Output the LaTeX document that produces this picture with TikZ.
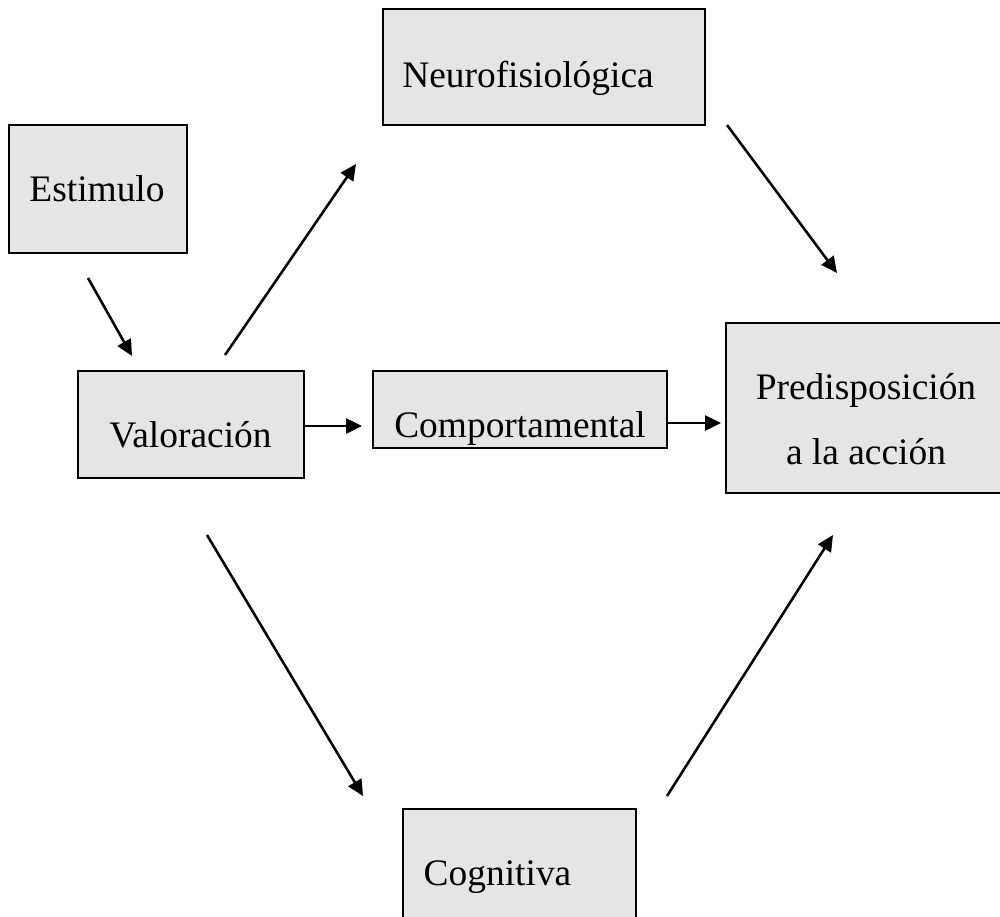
\documentclass[tikz,border=0pt]{standalone}
\usepackage{fontspec}
\setmainfont{Liberation Serif}
\usetikzlibrary{arrows.meta}
\begin{document}
\begin{tikzpicture}[x=0.02cm, y=-0.02cm,
  box/.style={draw=black, line width=0.7pt, fill=black!10, inner sep=0pt},
  lbl/.style={anchor=base, inner sep=0pt, font=\fontsize{21.3}{37}\selectfont},
  arr/.style={line width=1.45pt, -{Triangle[length=0.32cm, width=0.3cm]}}]
  \useasboundingbox (0,0) rectangle (1000,916);
  \clip (0,0) rectangle (1000,916);

  % boxes
  \node[box, minimum width=3.56cm, minimum height=2.56cm] (stim)  at (98,189) {};
  \node[box, minimum width=6.44cm, minimum height=2.32cm] (neuro) at (544,67) {};
  \node[box, minimum width=4.52cm, minimum height=2.14cm] (val)   at (191,424.5) {};
  \node[box, minimum width=5.88cm, minimum height=1.54cm] (comp)  at (520,409.5) {};
  \node[box, minimum width=5.60cm, minimum height=3.40cm] (pred)  at (866,408) {};
  \node[box, minimum width=4.66cm, minimum height=2.82cm] (cog)   at (519.5,879.5) {};

  % labels
  \node[lbl] (stimt)  at (97,201)  {Estimulo};
  \node[lbl] (neurot) at (528,87)  {Neurofisiológica};
  \node[lbl] (valt)   at (190.5,447) {Valoración};
  \node[lbl] (compt)  at (520,437) {Comportamental};
  \node[lbl] (predt1) at (866,399) {Predisposición};
  \node[lbl] (predt2) at (866,464) {a la acción};
  \node[lbl] (cogt)   at (497.5,885) {Cognitiva};

  % arrow end points
  \coordinate (s1) at (88,278);   \coordinate (s2) at (132,356);
  \coordinate (n1) at (225,355);  \coordinate (n2) at (356,164);
  \coordinate (p1) at (727,125);  \coordinate (p2) at (837,273);
  \coordinate (c1) at (207,535);  \coordinate (c2) at (363,796);
  \coordinate (q1) at (667,796);  \coordinate (q2) at (833,535);
  \coordinate (h1) at (304,426);  \coordinate (h2) at (362,426);
  \coordinate (k1) at (667,423);  \coordinate (k2) at (721,423);

  % connectors
  \draw[arr] (s1) -- (s2);
  \draw[arr] (n1) -- (n2);
  \draw[arr] (p1) -- (p2);
  \draw[arr] (c1) -- (c2);
  \draw[arr] (q1) -- (q2);
  \draw[arr] (h1) -- (h2);
  \draw[arr] (k1) -- (k2);
\end{tikzpicture}
\end{document}
